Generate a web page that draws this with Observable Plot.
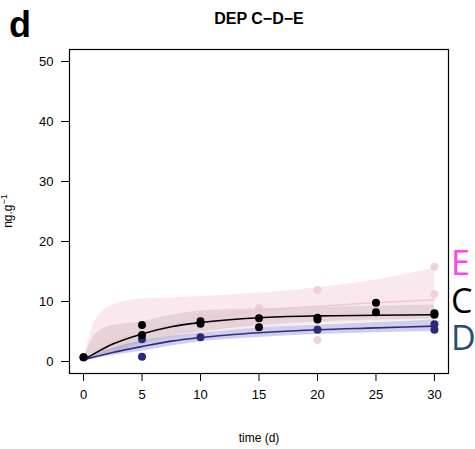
<!DOCTYPE html>
<html><head><meta charset="utf-8">
<script src="https://cdn.jsdelivr.net/npm/d3@7"></script>
<script src="https://cdn.jsdelivr.net/npm/@observablehq/plot@0.6"></script>
<style>
body{margin:0;background:#fff;}
#chart svg{font-family:"Liberation Sans",Arial,sans-serif;}
</style>
</head><body><div id="chart"></div>
<script>
// observed points
const ptE_t = [0, 10, 10, 15, 15, 20, 20, 25, 25, 30, 30];
const ptE_v = [0.6, 7.4, 6.9, 8.9, 7.4, 11.9, 3.6, 8.3, 7.9, 15.8, 11.2];
const ptC_t = [0, 5, 5, 10, 10, 15, 15, 20, 20, 25, 25, 30, 30];
const ptC_v = [0.7, 6.1, 4.4, 6.7, 6.3, 7.2, 5.7, 7.3, 7.0, 9.8, 8.2, 8.05, 7.8];
const ptD_t = [0, 5, 5, 10, 20, 30, 30];
const ptD_v = [0.7, 3.7, 0.8, 4.05, 5.3, 6.2, 5.3];
// fitted curves and bands
const fitT   = [0, 1, 2.5, 5, 7.5, 10, 15, 20, 25, 30];
const fitE   = [0.3, 1.6, 3.2, 4.8, 6.2, 7.1, 8.4, 9.2, 9.8, 10.3];
const fitElo = [0.3, 0.8, 1.6, 2.8, 3.8, 4.6, 5.6, 6.2, 6.6, 6.9];
const fitEhi = [0.3, 6.8, 9.4, 10.4, 10.6, 10.8, 11.4, 12.3, 13.6, 15.6];
const fitC   = [0.3, 1.4, 2.9, 4.6, 5.8, 6.5, 7.3, 7.6, 7.7, 7.8];
const fitClo = [0.3, 0.7, 1.5, 3.1, 4.2, 4.9, 6.0, 6.6, 6.9, 7.1];
const fitChi = [0.3, 4.5, 6.0, 6.6, 7.7, 8.4, 8.8, 9.0, 9.2, 9.4];
const fitD   = [0.3, 0.8, 1.5, 2.5, 3.4, 4.0, 4.8, 5.3, 5.6, 5.9];
const fitDlo = [0.3, 0.5, 1.0, 1.7, 2.6, 3.3, 4.0, 4.5, 4.8, 5.0];
const fitDhi = [0.3, 1.2, 2.2, 3.4, 4.2, 4.7, 5.6, 6.1, 6.5, 6.9];
const xTicks = [0, 5, 10, 15, 20, 25, 30];
const yTicks = [0, 10, 20, 30, 40, 50];

const pts = (t, v) => t.map((d, i) => ({t: d, v: v[i]}));
const band = (lo, mid, hi) => fitT.map((d, i) => ({t: d, lo: lo[i], v: mid[i], hi: hi[i]}));
const E = band(fitElo, fitE, fitEhi), C = band(fitClo, fitC, fitChi), D = band(fitDlo, fitD, fitDhi);

const W = 475, H = 449;
const plot = Plot.plot({
  width: W, height: H,
  marginLeft: 69, marginRight: 27, marginTop: 49, marginBottom: 76,
  style: {fontFamily: "'Liberation Sans', Arial, sans-serif", fontSize: "13px", color: "#000"},
  x: {domain: [-1.2, 31.2], ticks: xTicks, tickSize: 8, tickPadding: 8, label: null},
  y: {domain: [-2, 52], ticks: yTicks, tickSize: 8, tickPadding: 8, label: null},
  marks: [
    Plot.areaY(E, {x: "t", y1: "lo", y2: "hi", fill: "#f5dbe2", fillOpacity: 0.6, curve: "monotone-x"}),
    Plot.areaY(C, {x: "t", y1: "lo", y2: "hi", fill: "#b8a2a4", fillOpacity: 0.3, curve: "monotone-x"}),
    Plot.areaY(D, {x: "t", y1: "lo", y2: "hi", fill: "#8a88cc", fillOpacity: 0.4, curve: "monotone-x"}),
    Plot.lineY(E, {x: "t", y: "v", stroke: "#efc6d8", strokeWidth: 1.5, curve: "monotone-x"}),
    Plot.dot(pts(ptE_t, ptE_v), {x: "t", y: "v", r: 4, fill: "#efc3d6", fillOpacity: 0.75}),
    Plot.lineY(D, {x: "t", y: "v", stroke: "#2e2c82", strokeWidth: 1.6, curve: "monotone-x"}),
    Plot.dot(pts(ptD_t, ptD_v), {x: "t", y: "v", r: 4, fill: "#2b2a7a"}),
    Plot.lineY(C, {x: "t", y: "v", stroke: "#000", strokeWidth: 1.6, curve: "monotone-x"}),
    Plot.dot(pts(ptC_t, ptC_v), {x: "t", y: "v", r: 4, fill: "#000"}),
    Plot.frame({stroke: "#000", strokeWidth: 1.2})
  ]
});
document.getElementById("chart").appendChild(plot);

const svg = d3.select(plot);
const ff = "'Liberation Sans', Arial, sans-serif";
svg.append("text").attr("x", 9).attr("y", 37).attr("font-size", 36).attr("font-weight", "bold")
  .attr("text-anchor", "start").attr("font-family", ff).attr("fill", "#000").text("d");
svg.append("text").attr("x", 259).attr("y", 24).attr("text-anchor", "middle").attr("font-size", 16)
  .attr("font-weight", "bold").attr("font-family", ff).attr("fill", "#000").text("DEP C\u2212D\u2212E");
svg.append("text").attr("x", 259).attr("y", 442).attr("text-anchor", "middle").attr("font-size", 12)
  .attr("font-family", ff).attr("fill", "#000").text("time (d)");
const yl = svg.append("text").attr("transform", "translate(12,211) rotate(-90)").attr("text-anchor", "middle")
  .attr("font-size", 12).attr("font-family", ff).attr("fill", "#000");
yl.append("tspan").text("ng.g");
yl.append("tspan").attr("dy", -5).attr("font-size", 9).text("\u22121");
const lab = [["E", "#ff44ee", 275], ["C", "#000000", 313], ["D", "#1f4e79", 350]];
lab.forEach(([s, c, y]) => svg.append("text").attr("x", 451).attr("y", y).attr("font-size", 34)
  .attr("text-anchor", "start").attr("font-family", "'Open Sans', sans-serif").attr("fill", c).text(s));
</script>
</body></html>
